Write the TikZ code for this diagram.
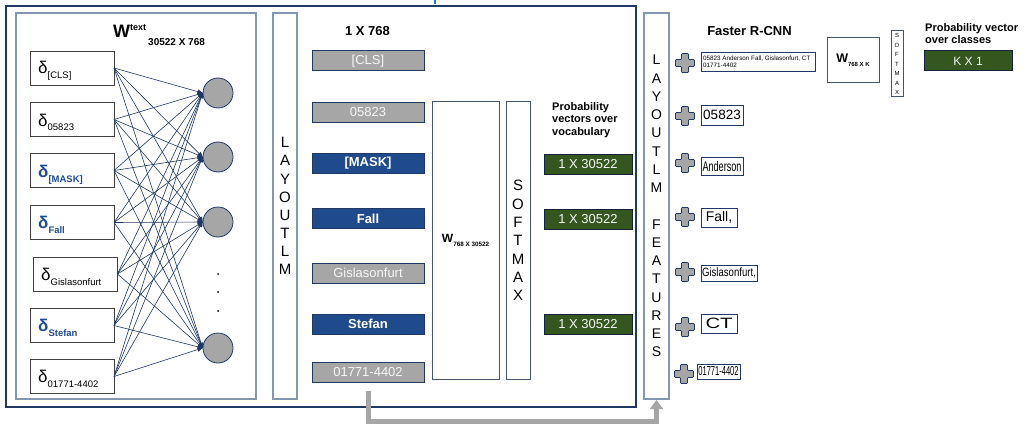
\documentclass[tikz,border=0pt]{standalone}
\usepackage{fontspec}
\usepackage{graphicx}
\setmainfont{Liberation Sans}
\usetikzlibrary{arrows.meta}
\definecolor{navy}{HTML}{1F3864}
\definecolor{panelc}{HTML}{8497B0}
\definecolor{barg}{HTML}{A6A6A6}
\definecolor{barb}{HTML}{1F4A8C}
\definecolor{greenb}{HTML}{35561F}
\definecolor{dblue}{HTML}{1F4A96}
\definecolor{boxc}{HTML}{44546A}
\definecolor{tickblue}{HTML}{2E75D6}
\newcommand\myfs[1]{\fontsize{#1}{#1}\selectfont}
\newcommand\dlt[1]{{\myfs{17}δ}\raisebox{-5pt}{\myfs{9.5}#1}}
\tikzset{
  box/.style={inner sep=0pt, outer sep=0pt, anchor=center},
  frame/.style={box, draw=navy, line width=1.3pt},
  panel/.style={box, draw=panelc, line width=1.2pt},
  dbox/.style={box, draw=black!75, line width=0.8pt, minimum width=84pt, minimum height=34pt},
  dtext/.style={anchor=base west, inner sep=0pt},
  neuron/.style={circle, draw=navy, fill=barg, line width=0.8pt, minimum size=30pt, inner sep=0pt},
  conn/.style={draw=navy, line width=0.6pt, -{Triangle[length=5pt,width=4.5pt]}},
  gbar/.style={box, draw=navy, fill=barg, line width=1pt, minimum width=112pt, minimum height=20pt, text=white!94!gray, font=\myfs{13}},
  bbar/.style={gbar, fill=barb, text=white, font=\myfs{13}\bfseries},
  gbox/.style={box, draw=navy!60!black, fill=greenb, line width=1pt, minimum width=88pt, minimum height=20pt, text=white!92!gray, font=\myfs{13}},
  vbox/.style={box, draw=boxc, line width=1pt},
  tok/.style={box, draw=navy, line width=0.9pt, fill=white},
  lbl/.style={inner sep=0pt, font=\bfseries\myfs{11}},
  garrow/.style={draw=barg, line width=5pt, -{Triangle[length=9pt,width=13pt]}},
  plussign/.pic={\path[draw=navy, fill=barg, line width=0.7pt, rounded corners=0.8pt]
    (-9.5,-3.5) -- (-3.5,-3.5) -- (-3.5,-9.5) -- (3.5,-9.5) -- (3.5,-3.5) -- (9.5,-3.5)
    -- (9.5,3.5) -- (3.5,3.5) -- (3.5,9.5) -- (-3.5,9.5) -- (-3.5,3.5) -- (-9.5,3.5) -- cycle;}
}
\begin{document}
\begin{tikzpicture}[x=1pt,y=-1pt]
\useasboundingbox[fill=white] (0,0) rectangle (1024,433);
\draw[tickblue, line width=1.2pt] (435,0) -- (435,4);

% outer frame and panels
\node[frame, minimum width=630pt, minimum height=401pt] (frame) at (321,206.5) {};
\node[panel, minimum width=240pt, minimum height=386pt] (panel) at (136,206) {};
\node[panel, minimum width=24pt, minimum height=386pt, align=center,
      font=\fontsize{15}{18.1}\selectfont] (lay) at (285,206) {L\\A\\Y\\O\\U\\T\\L\\M};

% W text label
\node[dtext, font=\bfseries] (wtx) at (113,38) {{\myfs{18}W}\raisebox{7pt}{\myfs{9}text}};
\node[dtext, font=\bfseries\myfs{10}] (wdim) at (148,46) {30522 X 768};

% delta boxes
\node[dbox] (d1) at (72,68) {};
\node[dbox] (d2) at (72,119.5) {};
\node[dbox] (d3) at (72,170.5) {};
\node[dbox] (d4) at (72,222.5) {};
\node[dbox] (d5) at (75.5,274) {};
\node[dbox] (d6) at (72,325.5) {};
\node[dbox] (d7) at (72,376.5) {};
\node[dtext] (d1t) at (38,74) {\dlt{[CLS]}};
\node[dtext] (d2t) at (38,126) {\dlt{05823}};
\node[dtext, text=dblue, font=\bfseries] (d3t) at (38,177) {\dlt{[MASK]}};
\node[dtext, text=dblue, font=\bfseries] (d4t) at (38,228.5) {\dlt{Fall}};
\node[dtext] (d5t) at (41,280) {\dlt{Gislasonfurt}};
\node[dtext, text=dblue, font=\bfseries] (d6t) at (38,331.5) {\dlt{Stefan}};
\node[dtext] (d7t) at (38,382.5) {\dlt{01771-4402}};

% neurons
\node[neuron] (c1) at (218,93) {};
\node[neuron] (c2) at (218,157) {};
\node[neuron] (c3) at (218,222) {};
\node[neuron] (c4) at (218,348) {};
\foreach \yy in {274,292,311} \fill (218,\yy) circle (1pt);
\foreach \i in {1,...,7}{\foreach \j in {1,...,4}{\draw[conn] (d\i.east) -- (c\j.west);}}

% token bars
\node[inner sep=0pt, anchor=base, font=\bfseries\myfs{13}] (dim1) at (367.5,36) {1 X 768};
\node[gbar] (t1) at (368,61) {[CLS]};
\node[gbar] (t2) at (368,112.5) {05823};
\node[bbar] (t3) at (368,163.5) {[MASK]};
\node[bbar] (t4) at (368,218.5) {Fall};
\node[gbar] (t5) at (368,273) {Gislasonfurt};
\node[bbar] (t6) at (368,324) {Stefan};
\node[gbar] (t7) at (368,372.5) {01771-4402};

% W and softmax
\node[vbox, minimum width=67pt, minimum height=277pt] (w1) at (465.5,240.5)
  {\bfseries{\myfs{12}W}\raisebox{-4pt}{\myfs{6.3}768 X 30522}};
\node[vbox, minimum width=24pt, minimum height=277pt, align=center,
      font=\fontsize{15}{18.3}\selectfont] (sm1) at (518,240.5) {S\\O\\F\\T\\M\\A\\X};

% probability vectors
\node[lbl, anchor=north west, align=left, font=\bfseries\fontsize{11}{12.5}\selectfont] (pv) at (552,102)
  {Probability\\vectors over\\vocabulary};
\node[gbox] (g1) at (588,164) {1 X 30522};
\node[gbox] (g2) at (588,219) {1 X 30522};
\node[gbox] (g3) at (588,324) {1 X 30522};

% LayoutLM features
\node[panel, minimum width=25pt, minimum height=386pt, align=center,
      font=\fontsize{14}{18.25}\selectfont] (feat) at (656.5,206)
  {L\\A\\Y\\O\\U\\T\\L\\M\\[18.25pt]F\\E\\A\\T\\U\\R\\E\\S};

\draw[garrow] ([yshift=-8pt]t7.south) -- ++(0,31) -| ([yshift=-1pt]feat.south);

% plus signs
\foreach \px/\py in {685/63,685/116,685/163,685/217,685/272,685/327,684/374}
  \pic at (\px,\py) {plussign};

% right tokens
\node[tok, minimum width=114pt, minimum height=19pt] (r0) at (758,61.5) {};
\node[anchor=west, inner sep=0pt, align=left, font=\fontsize{6.3}{7}\selectfont] (r0t) at (703,61.5)
  {05823 Anderson Fall, Gislasonfurt, CT\\01771-4402};
\node[tok, minimum width=42pt, minimum height=20pt, font=\myfs{13.5}] (r1) at (722,115) {05823};
\node[tok, minimum width=42pt, minimum height=18pt] (r2) at (722,166) {\scalebox{0.65}[1]{\myfs{14}Anderson}};
\node[tok, minimum width=36pt, minimum height=19pt, font=\myfs{14}] (r3) at (719,217.5) {Fall,};
\node[tok, minimum width=56pt, minimum height=16pt] (r4) at (729,273) {\scalebox{0.8}[1]{\myfs{12}Gislasonfurt,}};
\node[tok, minimum width=36pt, minimum height=19pt] (r5) at (719,323.5) {\scalebox{1.35}[1]{\myfs{15}CT}};
\node[tok, minimum width=43pt, minimum height=15pt] (r6) at (718.5,371.5) {\scalebox{0.58}[1]{\myfs{13}01771-4402}};

% Faster R-CNN branch
\node[inner sep=0pt, anchor=base, font=\bfseries\myfs{13}] (frcnn) at (749.5,36) {Faster R-CNN};
\node[vbox, minimum width=52pt, minimum height=45pt] (w2) at (853,60.5)
  {\bfseries{\myfs{12.5}W}\raisebox{-4pt}{\myfs{6}768 X K}};
\node[vbox, minimum width=12pt, minimum height=66pt, align=center,
      font=\fontsize{6}{9.5}\selectfont] (sm2) at (897,64) {S\\O\\F\\T\\M\\A\\X};
\node[lbl, anchor=north west, align=left, font=\bfseries\fontsize{11}{12.5}\selectfont] (pc) at (925,23)
  {Probability vector\\over classes};
\node[gbox, font=\myfs{12}] (kx1) at (968,61) {K X 1};
\end{tikzpicture}
\end{document}
